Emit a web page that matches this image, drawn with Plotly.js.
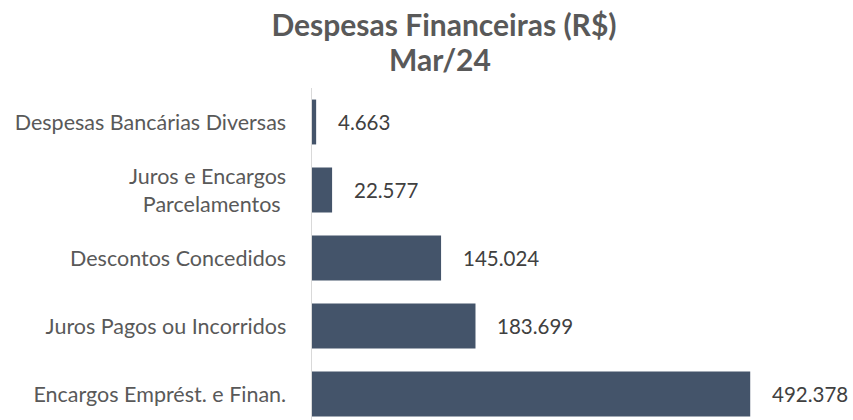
<!DOCTYPE html>
<html><head><meta charset="utf-8">
<script src="https://cdn.plot.ly/plotly-3.0.1.min.js"></script>
<style>html,body{margin:0;padding:0;background:#fff}</style>
</head><body>
<div id="chart" style="width:853px;height:420px"></div>
<script>
const categories = ["Encargos Emprést. e Finan.", "Juros Pagos ou Incorridos", "Descontos Concedidos", "Juros e Encargos<br>Parcelamentos\u00a0", "Despesas Bancárias Diversas"];
const values = [492378, 183699, 145024, 22577, 4663];
const valueLabels = ["492.378", "183.699", "145.024", "22.577", "4.663"];
const titleLine1 = "Despesas Financeiras (R$)";
const titleLine2 = "Mar/24";

const font = "Lato, 'Open Sans', sans-serif";
const trace = {
  type: "bar", orientation: "h",
  x: values, y: categories,
  marker: {color: "#44546A"},
  hoverinfo: "none"
};
const annotations = values.map((v, i) => ({
  x: v, y: categories[i], xref: "x", yref: "y",
  text: valueLabels[i], showarrow: false,
  xanchor: "left", xshift: 20,
  font: {family: font, size: 20.5, color: "#404040"}
}));
annotations.push({
  x: 440, xref: "paper", y: 1.087, yref: "paper",
  text: "<b>" + titleLine2 + "</b>", showarrow: false,
  xanchor: "center", yanchor: "middle",
  font: {family: font, size: 30, color: "#595959"}
});
// paper x for center 440px: (440-312)/534
annotations[annotations.length - 1].x = (440 - 312) / 534;

const layout = {
  width: 853, height: 420,
  margin: {l: 312, r: 7, t: 88, b: 0},
  paper_bgcolor: "#fff", plot_bgcolor: "#fff",
  bargap: 0.34,
  showlegend: false,
  title: {
    text: "<b>" + titleLine1 + "</b>",
    xref: "container", x: 444 / 853, xanchor: "center",
    yref: "container", y: 1 - 25 / 420, yanchor: "middle",
    font: {family: font, size: 30, color: "#595959"}
  },
  xaxis: {range: [0, 600000], showgrid: false, zeroline: false, showticklabels: false, showline: false, fixedrange: true},
  yaxis: {
    type: "category", range: [-0.382, 4.5],
    showgrid: false, zeroline: false,
    showline: true, linecolor: "#d9d9d9", linewidth: 1.5,
    ticks: "", ticklabelstandoff: 20,
    tickfont: {family: font, size: 21.5, color: "#595959"}
  },
  annotations: annotations
};
Plotly.newPlot("chart", [trace], layout, {displayModeBar: false, staticPlot: true});
</script>
</body></html>
